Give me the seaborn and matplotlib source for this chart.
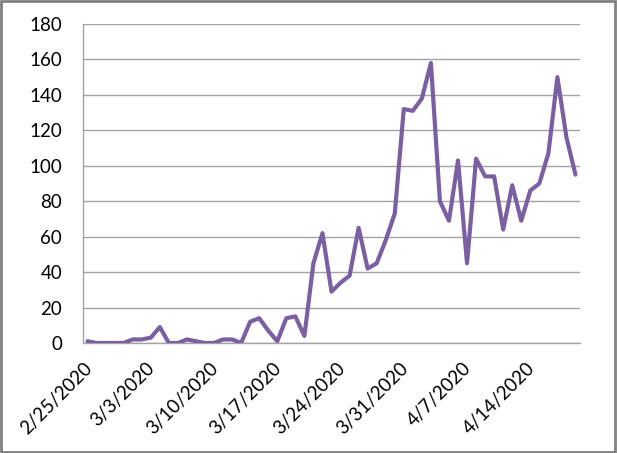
import matplotlib
matplotlib.use("Agg")
import matplotlib.pyplot as plt
import matplotlib.patches as mpatches
import seaborn as sns
import pandas as pd
import numpy as np

start_date = "2020-02-25"
values = [1, 0, 0, 0, 0, 2, 2, 3, 9, 0,
          0, 2, 1, 0, 0, 2, 2, 0, 12, 14,
          7, 1, 14, 15, 4, 45, 62, 29, 34, 38,
          65, 42, 45, 58, 73, 132, 131, 138, 158, 80,
          69, 103, 45, 104, 94, 94, 64, 89, 69, 86,
          90, 107, 150, 116, 95]
tick_labels = ["2/25/2020", "3/3/2020", "3/10/2020", "3/17/2020",
               "3/24/2020", "3/31/2020", "4/7/2020", "4/14/2020"]
y_ticks = [0, 20, 40, 60, 80, 100, 120, 140, 160, 180]

dates = pd.date_range(start_date, periods=len(values), freq="D")
df = pd.DataFrame({"date": dates, "value": values})

sns.set_theme(style="white")
plt.rcParams["font.family"] = ["Lato", "DejaVu Sans"]

fig = plt.figure(figsize=(6.17, 4.53), dpi=100)
ax = fig.add_axes([83 / 617, 1 - 343 / 453, (580 - 83) / 617, (343 - 24) / 453])

half = pd.Timedelta(hours=12)
ax.set_axisbelow(True)
for yv in y_ticks:
    ax.axhline(yv, color="#A3A3A3", lw=1.0, zorder=0)

sns.lineplot(data=df, x="date", y="value", ax=ax, color="#7B5FA3",
             linewidth=3.0, zorder=3)

ax.set_xlim(dates[0] - half, dates[-1] + half)
ax.set_ylim(0, 180)
tick_pos = [pd.Timestamp(pd.to_datetime(t, format="%m/%d/%Y")) - half for t in tick_labels]
ax.set_xticks(tick_pos)
ax.set_xticklabels(tick_labels, rotation=45, ha="right", rotation_mode="anchor",
                   fontsize=13.5, color="#000000")
ax.set_yticks(y_ticks)
ax.set_yticklabels([str(v) for v in y_ticks], fontsize=13.5, color="#000000")
ax.set_xlabel("")
ax.set_ylabel("")

for s in ["top", "right"]:
    ax.spines[s].set_visible(False)
for s in ["left", "bottom"]:
    ax.spines[s].set_color("#A3A3A3")
    ax.spines[s].set_linewidth(1.0)
ax.tick_params(axis="both", which="both", direction="out", length=6,
               width=1.0, color="#A3A3A3")
ax.tick_params(axis="y", pad=9)
ax.tick_params(axis="x", pad=6)
ax.grid(False)

fig.patches.append(mpatches.Rectangle((0.002, 0.003), 0.995, 0.994, transform=fig.transFigure,
                                      fill=False, edgecolor="#808080", linewidth=2.0))

fig.savefig("out.png", dpi=100)
